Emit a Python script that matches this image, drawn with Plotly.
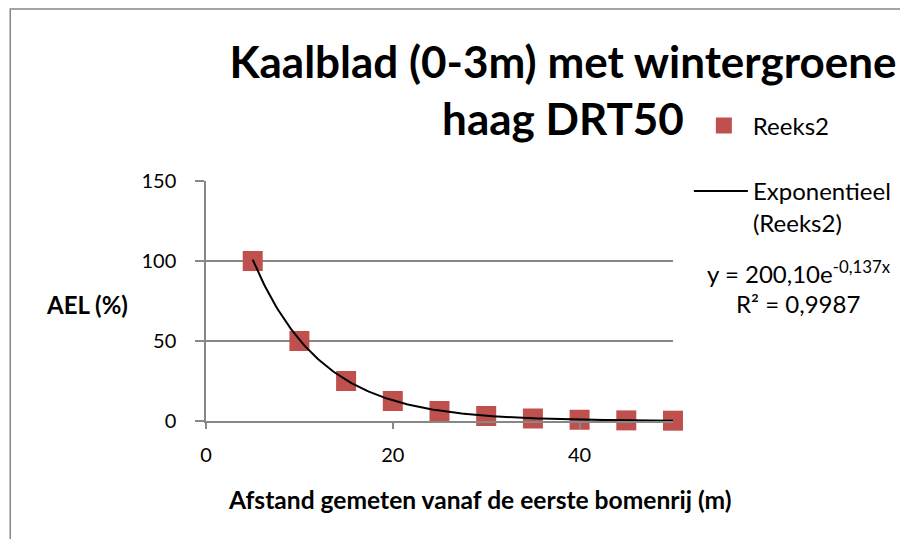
import numpy as np
import plotly.graph_objects as go

# ---- data ----
afstand = [5, 10, 15, 20, 25, 30, 35, 40, 45, 50]
ael = [100, 50, 25, 12.5, 6.25, 3.13, 1.56, 0.78, 0.39, 0.20]
fit_a = 200.10      # from the chart's trendline equation
fit_b = -0.137
x_ticks = [0, 20, 40]
y_ticks = [0, 50, 100, 150]

title_text = "Kaalblad (0-3m) met wintergroene<br>haag DRT50"
x_title = "Afstand gemeten vanaf de eerste bomenrij (m)"
y_title = "AEL (%)"
series_name = "Reeks2"
trend_name = "Exponentieel<br>(Reeks2)"
eq_text = "y = 200,10e<sup>-0,137x</sup>"
r2_text = "R² = 0,9987"

FONT = "Lato"
OFF = 8                     # page body margin offset
W, H = 908 - OFF, 539 - OFF
L, T = 206 - OFF, 181 - OFF
PW, PH = 470, 240
R = W - L - PW
B = H - T - PH


def px(x):          # reference pixel x -> paper
    return (x - OFF - L) / PW


def py(y):          # reference pixel y -> paper
    return (T + PH - (y - OFF)) / PH


xs = np.linspace(min(afstand), max(afstand), 200)
ys = fit_a * np.exp(fit_b * xs)

fig = go.Figure()
fig.add_trace(go.Scatter(
    x=afstand, y=ael, mode="markers", name=series_name,
    marker=dict(symbol="square", size=20, color="#C0504D",
                line=dict(width=0)),
    cliponaxis=False,
    legend="legend",
))
fig.add_trace(go.Scatter(
    x=xs, y=ys, mode="lines", name=trend_name,
    line=dict(color="black", width=2),
    cliponaxis=False,
    legend="legend2",
))

grid = "#878787"
fig.update_layout(
    width=W, height=H,
    margin=dict(l=L, r=R, t=T, b=B),
    paper_bgcolor="white", plot_bgcolor="white",
    font=dict(family=FONT, color="black"),
    title=dict(text="<b>" + title_text + "</b>", font=dict(family=FONT, size=44, color="black"),
               x=(563 - OFF) / W, xanchor="center", xref="container",
               y=1 - (78 - OFF) / H, yanchor="middle", yref="container"),
    xaxis=dict(range=[0, 50], tickvals=x_ticks, showgrid=False, zeroline=False,
               showline=True, linecolor=grid, linewidth=1.5,
               ticks="outside", ticklen=6, tickwidth=1.5, tickcolor=grid,
               tickfont=dict(size=20, family=FONT), ticklabelstandoff=9),
    yaxis=dict(range=[0, 150], tickvals=y_ticks, showgrid=True, gridcolor=grid, gridwidth=1.5,
               zeroline=False, showline=True, linecolor=grid, linewidth=1.5,
               ticks="outside", ticklen=9, tickwidth=1.5, tickcolor=grid,
               tickfont=dict(size=20, family=FONT), ticklabelstandoff=15),
    legend=dict(x=px(698), y=py(126), xanchor="left", yanchor="middle",
                font=dict(size=24, family=FONT), bgcolor="rgba(0,0,0,0)",
                itemsizing="trace", itemwidth=48),
    legend2=dict(x=px(692), y=py(169), xanchor="left", yanchor="top", valign="top",
                 font=dict(size=24, family=FONT), bgcolor="rgba(0,0,0,0)",
                 itemwidth=54),
    showlegend=True,
)

fig.add_annotation(text="<b>" + y_title + "</b>", x=px(86), y=py(304), xref="paper", yref="paper",
                   showarrow=False, font=dict(size=24, family=FONT), xanchor="center", yanchor="middle")
fig.add_annotation(text="<b>" + x_title + "</b>", x=px(482), y=py(499), xref="paper", yref="paper",
                   showarrow=False, font=dict(size=24.6, family=FONT), xanchor="center", yanchor="middle")
fig.add_annotation(text=eq_text, x=px(803), y=py(272), xref="paper", yref="paper",
                   showarrow=False, font=dict(size=24, family=FONT), xanchor="center", yanchor="middle")
fig.add_annotation(text=r2_text, x=px(802), y=py(303), xref="paper", yref="paper",
                   showarrow=False, font=dict(size=24, family=FONT), xanchor="center", yanchor="middle")

# chart-area border
fig.add_shape(type="rect", xref="paper", yref="paper",
              x0=px(9), x1=px(920), y0=py(550), y1=py(9),
              line=dict(color="#868686", width=1.5), fillcolor="rgba(0,0,0,0)", layer="below")

fig.write_html("out.html")
